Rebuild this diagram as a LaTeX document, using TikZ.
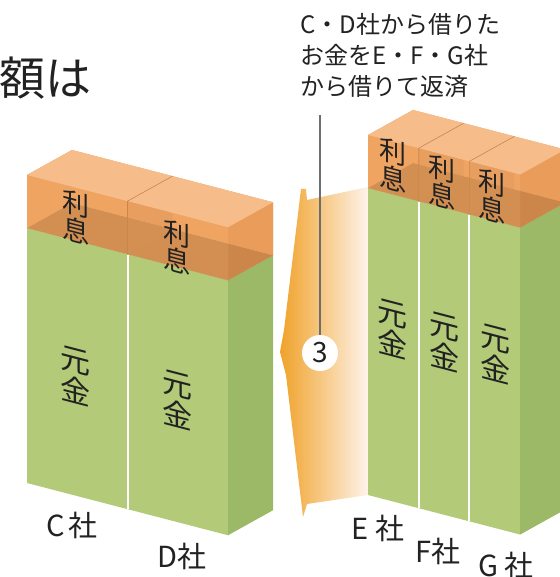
\documentclass[tikz,border=0pt]{standalone}
\usepackage{fontspec}
\setmainfont{Noto Sans CJK JP}
\usetikzlibrary{calc}
\definecolor{colGreenFront}{HTML}{B3CB78}
\definecolor{colGreenSide}{HTML}{9BB967}
\definecolor{colOrangeFront}{HTML}{F2A865}
\definecolor{colOrangeBack}{HTML}{EC9F5E}
\definecolor{colOrangeSide}{HTML}{E99A58}
\definecolor{colOrangeTop}{HTML}{F6BC8A}
\definecolor{colBottom}{HTML}{A26A35}
\definecolor{colArrow}{HTML}{F0A22A}
\definecolor{colArrowFade}{HTML}{FEF3EA}
\definecolor{colLeader}{HTML}{6E6E6E}
\definecolor{colInk}{HTML}{222222}

% one block of loans: x0, top y, columns, column width, height
\newcommand{\loanBlock}[5]{%
  \pgfmathsetmacro{\xa}{#1}
  \pgfmathsetmacro{\xb}{#1+#3*#4}
  \pgfmathsetmacro{\ya}{#2}
  \pgfmathsetmacro{\yb}{#2+0.26*#3*#4}
  \pgfmathtruncatemacro{\nd}{#3-1}
  \coordinate (ftl) at (\xa,\ya);
  \coordinate (ftr) at (\xb,\yb);
  \coordinate (fml) at (\xa,\ya+53);
  \coordinate (fmr) at (\xb,\yb+53);
  \coordinate (fbl) at (\xa,\ya+#5);
  \coordinate (fbr) at (\xb,\yb+#5);
  % green part
  \fill[greenfront] (fml) -- (fmr) -- (fbr) -- (fbl) -- cycle;
  \fill[greenside] (fmr) -- ($(fmr)+(45,-25)$) -- ($(fbr)+(45,-25)$) -- (fbr) -- cycle;
  \foreach \i in {1,...,\nd}{
    \pgfmathsetmacro{\xd}{#1+\i*#4}
    \pgfmathsetmacro{\yd}{#2+0.26*\i*#4}
    \draw[seam] (\xd,\yd+54) -- (\xd,\yd+#5);
  }
  % orange box, inside first
  \fill[boxback] ($(ftl)+(45,-25)$) -- ($(ftr)+(45,-25)$) -- ($(fmr)+(45,-25)$) -- ($(fml)+(45,-25)$) -- cycle;
  \fill[boxback] (ftl) -- ($(ftl)+(45,-25)$) -- ($(fml)+(45,-25)$) -- (fml) -- cycle;
  \fill[boxbottom] (fml) -- (fmr) -- ($(fmr)+(45,-25)$) -- ($(fml)+(45,-25)$) -- cycle;
  \foreach \i in {1,...,\nd}{
    \pgfmathsetmacro{\xd}{#1+\i*#4}
    \pgfmathsetmacro{\yd}{#2+0.26*\i*#4}
    \fill[innerwall] (\xd,\yd) -- ++(45,-25) -- ++(0,53) -- ++(-45,25) -- cycle;
  }
  \fill[boxfront] (ftl) -- (ftr) -- (fmr) -- (fml) -- cycle;
  \fill[boxside] (ftr) -- ($(ftr)+(45,-25)$) -- ($(fmr)+(45,-25)$) -- (fmr) -- cycle;
  \fill[boxtop] (ftl) -- (ftr) -- ($(ftr)+(45,-25)$) -- ($(ftl)+(45,-25)$) -- cycle;
  \foreach \i in {1,...,\nd}{
    \pgfmathsetmacro{\xd}{#1+\i*#4}
    \pgfmathsetmacro{\yd}{#2+0.26*\i*#4}
    \draw[ridge] (\xd,\yd+53) -- (\xd,\yd) -- ++(45,-25);
  }
}

\begin{document}
\begin{tikzpicture}[
  x=0.5pt, y=-0.5pt,
  greenfront/.style={fill=colGreenFront},
  greenside/.style={fill=colGreenSide},
  seam/.style={draw=white, line width=1pt},
  boxback/.style={fill=colOrangeBack},
  boxbottom/.style={fill=colBottom},
  innerwall/.style={fill=colOrangeBack!75!black, fill opacity=0.35},
  boxfront/.style={fill=colOrangeFront, fill opacity=0.6},
  boxside/.style={fill=colOrangeSide, fill opacity=0.6},
  boxtop/.style={fill=colOrangeTop},
  ridge/.style={draw=colOrangeBack!85!black, line width=0.3pt},
  kanjiS/.style={font=\fontsize{13.5}{13.5}\selectfont, align=center,
    yslant=-0.26, text=colInk, inner sep=0pt},
  kanjiL/.style={font=\fontsize{15}{15.5}\selectfont, align=center,
    yslant=-0.26, text=colInk, inner sep=0pt},
  company/.style={font=\fontsize{14.5}{16}\selectfont, text=colInk, inner sep=0pt},
  leader/.style={draw=colLeader, line width=0.75pt}
]
  \useasboundingbox (0,0) rectangle (560,577);
  \clip (0,0) rectangle (560,577);

  % heading
  \node[anchor=east, font=\fontsize{23}{28}\selectfont, text=colInk, inner sep=0pt]
    (heading) at (92,78) {額は};

  % C, D (left) and E, F, G (right)
  \loanBlock{27}{175}{2}{100.5}{308}
  \loanBlock{368}{135}{3}{50.7}{360}

  % refinancing arrow
  \shade[left color=colArrow, right color=colArrowFade]
    (301,189) -- (306,189) -- (307,200) -- (368,187) -- (368,495)
    -- (307,504) -- (303,517) -- (286,375) -- (280,352) -- (284,330) -- cycle;

  % interest / principal labels
  \node[kanjiS] (intC) at (76,217) {利\\息};
  \node[kanjiS] (intD) at (177,247) {利\\息};
  \node[kanjiS] (intE) at (393,165) {利\\息};
  \node[kanjiS] (intF) at (442,182) {利\\息};
  \node[kanjiS] (intG) at (492,196) {利\\息};
  \node[kanjiL] (prnC) at (75,376) {元\\金};
  \node[kanjiL] (prnD) at (177,400) {元\\金};
  \node[kanjiL] (prnE) at (392,329) {元\\金};
  \node[kanjiL] (prnF) at (444,342) {元\\金};
  \node[kanjiL] (prnG) at (495,354) {元\\金};

  % company names
  \node[company] (coC) at (72,525) {C\hspace{2pt}社};
  \node[company] (coD) at (182,556) {D社};
  \node[company] (coE) at (378,528) {E\hspace{3pt}社};
  \node[company] (coF) at (438,551) {F社};
  \node[company] (coG) at (506,565) {G\hspace{3pt}社};

  % note with leader
  \node[anchor=north west, align=left, inner sep=0pt, text=colInk,
    font=\fontsize{12}{15.5}\selectfont] (note) at (300,13)
    {C・D社から借りた\\お金をE・F・G社\\から借りて返済};
  \node[circle, fill=white, minimum size=18pt, inner sep=0pt, text=colInk,
    font=\fontsize{14}{14}\selectfont] (step3) at (320,353) {3};
  \coordinate (leadTop) at (320,115);
  \draw[leader] (leadTop) -- (step3);

\end{tikzpicture}
\end{document}
